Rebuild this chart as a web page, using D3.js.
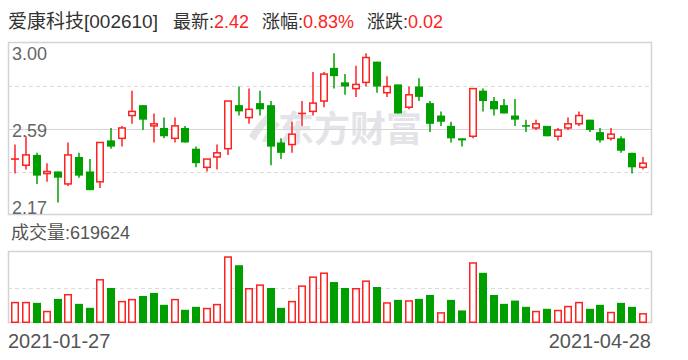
<!DOCTYPE html>
<html>
<head>
<meta charset="utf-8">
<script src="https://d3js.org/d3.v7.min.js"></script>
<style>
  body { margin: 0; background: #fff; }
  svg { display: block; font-family: "Liberation Sans", Arial, "Noto Sans CJK SC", sans-serif; }
</style>
</head>
<body>
<div id="chart"></div>
<script>
const stockName = '爱康科技';
const stockCode = '002610';

const dates = [
  '2021-01-27', '2021-01-28', '2021-01-29',
  '2021-02-01', '2021-02-02', '2021-02-03', '2021-02-04', '2021-02-05',
  '2021-02-08', '2021-02-09', '2021-02-10', '2021-02-18', '2021-02-19',
  '2021-02-22', '2021-02-23', '2021-02-24', '2021-02-25', '2021-02-26',
  '2021-03-01', '2021-03-02', '2021-03-03', '2021-03-04', '2021-03-05',
  '2021-03-08', '2021-03-09', '2021-03-10', '2021-03-11', '2021-03-12',
  '2021-03-15', '2021-03-16', '2021-03-17', '2021-03-18', '2021-03-19',
  '2021-03-22', '2021-03-23', '2021-03-24', '2021-03-25', '2021-03-26',
  '2021-03-29', '2021-03-30', '2021-03-31',
  '2021-04-01', '2021-04-02', '2021-04-06', '2021-04-07', '2021-04-08', '2021-04-09',
  '2021-04-12', '2021-04-13', '2021-04-14', '2021-04-15', '2021-04-16',
  '2021-04-19', '2021-04-20', '2021-04-21', '2021-04-22', '2021-04-23',
  '2021-04-26', '2021-04-27', '2021-04-28'
];

const open  = [2.44, 2.41, 2.46, 2.37, 2.38, 2.32, 2.45, 2.38, 2.33, 2.53,
               2.54, 2.65, 2.70, 2.60, 2.59, 2.54, 2.59, 2.49, 2.40, 2.45,
               2.49, 2.70, 2.64, 2.71, 2.70, 2.52, 2.51, 2.66, 2.67, 2.72,
               2.88, 2.81, 2.78, 2.81, 2.91, 2.76, 2.80, 2.69, 2.79, 2.71,
               2.65, 2.60, 2.54, 2.55, 2.77, 2.72, 2.70, 2.65, 2.60, 2.59,
               2.60, 2.55, 2.59, 2.61, 2.63, 2.57, 2.54, 2.54, 2.47, 2.40];
const high  = [2.51, 2.55, 2.47, 2.42, 2.38, 2.52, 2.47, 2.44, 2.52, 2.59,
               2.60, 2.77, 2.70, 2.66, 2.64, 2.64, 2.60, 2.50, 2.44, 2.51,
               2.72, 2.79, 2.78, 2.77, 2.72, 2.54, 2.62, 2.72, 2.86, 2.86,
               2.95, 2.85, 2.89, 2.95, 2.91, 2.84, 2.80, 2.79, 2.83, 2.72,
               2.67, 2.62, 2.54, 2.78, 2.78, 2.74, 2.73, 2.73, 2.63, 2.63,
               2.60, 2.59, 2.64, 2.67, 2.63, 2.59, 2.59, 2.55, 2.47, 2.45];
const low   = [2.37, 2.39, 2.32, 2.33, 2.23, 2.31, 2.35, 2.29, 2.30, 2.49,
               2.50, 2.61, 2.58, 2.52, 2.54, 2.52, 2.52, 2.40, 2.38, 2.39,
               2.46, 2.65, 2.61, 2.65, 2.41, 2.44, 2.47, 2.60, 2.65, 2.69,
               2.78, 2.75, 2.74, 2.79, 2.76, 2.74, 2.66, 2.68, 2.72, 2.57,
               2.60, 2.52, 2.50, 2.54, 2.67, 2.65, 2.66, 2.60, 2.57, 2.58,
               2.55, 2.53, 2.58, 2.60, 2.57, 2.52, 2.53, 2.47, 2.37, 2.39];
const close = [2.44, 2.46, 2.36, 2.38, 2.35, 2.46, 2.36, 2.29, 2.52, 2.50,
               2.59, 2.67, 2.63, 2.61, 2.55, 2.60, 2.52, 2.42, 2.44, 2.47,
               2.72, 2.67, 2.68, 2.68, 2.50, 2.47, 2.56, 2.66, 2.71, 2.85,
               2.84, 2.79, 2.80, 2.93, 2.79, 2.79, 2.66, 2.75, 2.74, 2.61,
               2.62, 2.54, 2.53, 2.78, 2.72, 2.68, 2.66, 2.63, 2.60, 2.61,
               2.55, 2.58, 2.61, 2.65, 2.58, 2.53, 2.56, 2.48, 2.40, 2.42];
const volume = [1320000, 1320000, 1258000, 762000, 1506000, 1812000, 1196000, 948000, 2742000, 2184000,
                1382000, 1506000, 1688000, 1874000, 1134000, 1506000, 824000, 1010000, 948000, 1196000,
                4164000, 3606000, 2184000, 2410000, 2184000, 948000, 1382000, 2348000, 2906000, 3154000,
                2556000, 2184000, 2184000, 2658000, 2246000, 1298000, 1444000, 1422000, 1506000, 1750000,
                678000, 1444000, 784000, 3792000, 3132000, 1750000, 1196000, 1400000, 1010000, 762000,
                886000, 824000, 1072000, 1320000, 886000, 1134000, 700000, 1258000, 1010000, 619624];

const priceTicks = [3.00, 2.585, 2.17];
const priceLabels = ['3.00', '2.59', '2.17'];

const width = 688, height = 360;
const left = 8, right = 651;
const kTop = 43, kBottom = 215;
const vTop = 252, vBottom = 323;
const red = '#f22', green = '#009f00';

const svg = d3.select('#chart').append('svg')
  .attr('width', width)
  .attr('height', height);

const x = d3.scaleBand().domain(dates).range([10, 648]);
const y = d3.scaleLinear().domain([2.17, 3.00]).range([kBottom, kTop]);
const yv = d3.scaleLinear().domain([0, d3.max(volume) * 1.064]).range([vBottom, vTop]);
const cx = i => Math.round(x(dates[i]) + x.bandwidth() / 2);

// candle colour: close vs open, doji by previous close
const candleUp = i => close[i] > open[i] || (close[i] === open[i] && (i === 0 || close[i] >= close[i - 1]));
// volume colour: close vs previous close
const volUp = i => i === 0 || close[i] >= close[i - 1];

// header
const last = close.length - 1;
const chg = close[last] - close[last - 1];
const header = svg.append('g').attr('font-size', 18);
header.append('text').attr('x', 8).attr('y', 28).attr('fill', '#333')
  .attr('font-size', 19)
  .text(`${stockName}[${stockCode}]`);
const headItems = [
  { x: 173, label: '最新:', value: close[last].toFixed(2) },
  { x: 262, label: '涨幅:', value: (chg / close[last - 1] * 100).toFixed(2) + '%' },
  { x: 367, label: '涨跌:', value: chg.toFixed(2) }
];
headItems.forEach(h => {
  const t = header.append('text').attr('x', h.x).attr('y', 28).attr('fill', '#333');
  t.append('tspan').text(h.label);
  t.append('tspan').attr('fill', red).text(h.value);
});

// watermark
const wm = svg.append('g').attr('fill', '#e4e4e8');
wm.append('path')
  .attr('d', 'M268,113 Q256,124 249,136 L255,141 Q262,128 274,117 Z M276,121 Q266,130 262,142 L268,142 Q271,133 280,125 Z');
wm.append('text').attr('x', 278).attr('y', 142)
  .attr('font-size', 36).attr('font-weight', 'bold')
  .attr('font-family', '"Noto Sans CJK SC", sans-serif')
  .text('东方财富');

// price panel grid
const kPanel = svg.append('g');
const gridLevels = [0.25, 0.5, 0.75].map(f => y.invert(kBottom - f * (kBottom - kTop)));
kPanel.selectAll('line.grid').data(gridLevels).enter().append('line')
  .attr('class', 'grid')
  .attr('x1', left).attr('x2', right)
  .attr('y1', d => Math.round(y(d)) + 0.5).attr('y2', d => Math.round(y(d)) + 0.5)
  .attr('stroke', (d, i) => i === 1 ? '#d6d6d6' : '#dcdcdc')
  .attr('stroke-width', 1.2)
  .attr('stroke-dasharray', (d, i) => i === 1 ? null : '4,3');
kPanel.append('rect')
  .attr('x', left + 0.5).attr('y', kTop - 0.5)
  .attr('width', right - left).attr('height', kBottom - kTop)
  .attr('fill', 'none').attr('stroke', '#d3d3d3').attr('stroke-width', 1.5);

// candles
const idx = d3.range(dates.length);
const candles = kPanel.selectAll('g.candle').data(idx).enter().append('g')
  .attr('class', 'candle');
candles.append('line')
  .attr('x1', cx).attr('x2', cx)
  .attr('y1', i => y(high[i])).attr('y2', i => y(low[i]))
  .attr('stroke', i => candleUp(i) ? red : green)
  .attr('stroke-width', 1.5);
candles.each(function (i) {
  const g = d3.select(this);
  const up = candleUp(i);
  const top = y(Math.max(open[i], close[i]));
  const bot = y(Math.min(open[i], close[i]));
  if (open[i] === close[i]) {
    g.append('line')
      .attr('x1', cx(i) - 4).attr('x2', cx(i) + 4)
      .attr('y1', top).attr('y2', top)
      .attr('stroke', up ? red : green).attr('stroke-width', 1.6);
  } else if (up) {
    g.append('rect')
      .attr('x', cx(i) - 3.25).attr('width', 6.5)
      .attr('y', top).attr('height', Math.max(bot - top, 0.5))
      .attr('fill', '#fff').attr('stroke', red).attr('stroke-width', 1.5);
  } else {
    g.append('rect')
      .attr('x', cx(i) - 4).attr('width', 8)
      .attr('y', top).attr('height', Math.max(bot - top, 1.2))
      .attr('fill', green);
  }
});

// price labels
kPanel.selectAll('text.ptick').data(priceTicks).enter().append('text')
  .attr('class', 'ptick')
  .attr('x', 12)
  .attr('y', (d, i) => [y(d) + 17, y(d) + 7.5, y(d) - 1][i])
  .attr('font-size', 18).attr('fill', '#666')
  .text((d, i) => priceLabels[i]);

// volume panel
const vPanel = svg.append('g');
vPanel.append('text').attr('x', 11).attr('y', 239)
  .attr('font-size', 18).attr('fill', '#555')
  .text('成交量:' + volume[last]);
vPanel.append('line')
  .attr('x1', left).attr('x2', right)
  .attr('y1', Math.round((vTop + vBottom) / 2) + 0.5).attr('y2', Math.round((vTop + vBottom) / 2) + 0.5)
  .attr('stroke', '#dcdcdc').attr('stroke-width', 1.2).attr('stroke-dasharray', '4,3');
vPanel.append('rect')
  .attr('x', left + 0.5).attr('y', vTop - 0.5)
  .attr('width', right - left).attr('height', vBottom - vTop)
  .attr('fill', 'none').attr('stroke', '#d3d3d3').attr('stroke-width', 1.5);

vPanel.selectAll('rect.vol').data(idx).enter().append('rect')
  .attr('class', 'vol')
  .attr('x', i => volUp(i) ? cx(i) - 3.25 : cx(i) - 4)
  .attr('width', i => volUp(i) ? 6.5 : 8)
  .attr('y', i => yv(volume[i]) + (volUp(i) ? 0.75 : 0))
  .attr('height', i => vBottom - yv(volume[i]) - (volUp(i) ? 1.5 : 0))
  .attr('fill', i => volUp(i) ? '#fff' : green)
  .attr('stroke', i => volUp(i) ? red : 'none')
  .attr('stroke-width', 1.5);

// date labels
svg.append('text').attr('x', left).attr('y', 348)
  .attr('font-size', 20).attr('fill', '#555')
  .text(dates[0]);
svg.append('text').attr('x', right).attr('y', 348)
  .attr('font-size', 20).attr('fill', '#555').attr('text-anchor', 'end')
  .text(dates[last]);
</script>
</body>
</html>
